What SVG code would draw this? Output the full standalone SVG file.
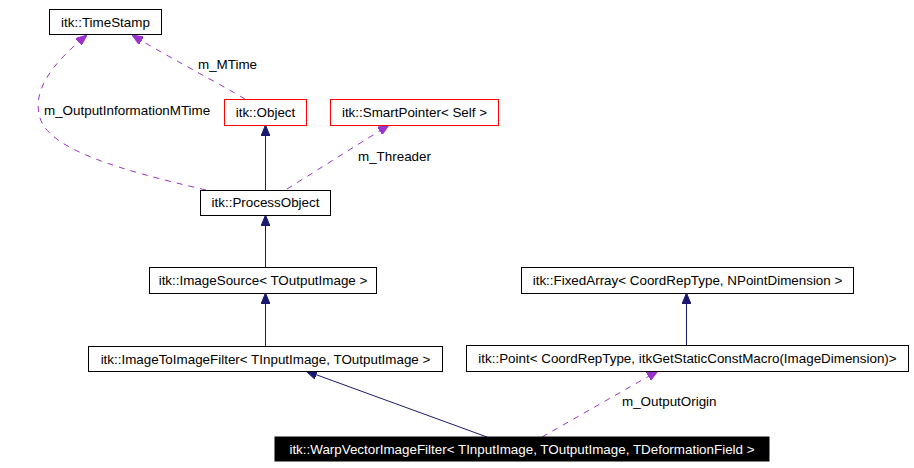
<svg xmlns="http://www.w3.org/2000/svg" width="914" height="468" viewBox="0 0 914 468">
<style>
text{font-family:"Liberation Sans",Arial,sans-serif;font-size:13.4px;fill:#000}
.n rect{fill:#fff;stroke:#000;stroke-width:1}
.n text{text-anchor:middle}
.r rect{stroke:#ff0000}
.inh{fill:none;stroke:#191970;stroke-width:1}
.use{fill:none;stroke:#9a32cd;stroke-width:1;stroke-dasharray:6,6}
</style>
<defs>
<marker id="ab" viewBox="0 0 11 9" refX="11" refY="4.5" markerWidth="11" markerHeight="9" markerUnits="userSpaceOnUse" orient="auto">
<path d="M0,0 L11,4.5 L0,9 Z" fill="#191970" stroke="#191970" stroke-width="1"/>
</marker>
<marker id="ap" viewBox="0 0 11 9" refX="11" refY="4.5" markerWidth="11" markerHeight="9" markerUnits="userSpaceOnUse" orient="auto">
<path d="M0,0 L11,4.5 L0,9 Z" fill="#9a32cd" stroke="#9a32cd" stroke-width="1"/>
</marker>
</defs>
<rect width="914" height="468" fill="#fff"/>
<g id="edges">
<path class="use" d="M245,99 C220,84 170,58 132,35" marker-end="url(#ap)"/>
<path class="use" d="M206,190 C120,170 50,150 40,118 C32,92 50,65 87,35" marker-end="url(#ap)"/>
<path class="use" d="M287,189 L389,125" marker-end="url(#ap)"/>
<path class="inh" d="M265.5,190 L265.5,125" marker-end="url(#ab)"/>
<path class="inh" d="M265.5,267 L265.5,215" marker-end="url(#ab)"/>
<path class="inh" d="M265.5,346 L265.5,293" marker-end="url(#ab)"/>
<path class="inh" d="M686.5,345 L686.5,293" marker-end="url(#ab)"/>
<path class="inh" d="M487,437 L306,371" marker-end="url(#ab)"/>
<path class="use" d="M542,437 L658,371" marker-end="url(#ap)"/>
<text x="198" y="69">m_MTime</text>
<text x="44" y="115">m_OutputInformationMTime</text>
<text x="358" y="161">m_Threader</text>
<text x="622" y="406">m_OutputOrigin</text>
</g>
<g id="TimeStamp" class="n"><rect x="49.5" y="9.5" width="112" height="25"/><text x="105.5" y="26.5">itk::TimeStamp</text></g>
<g id="Object" class="n r"><rect x="224.5" y="99.5" width="82" height="26"/><text x="265.5" y="117">itk::Object</text></g>
<g id="SmartPointer" class="n r"><rect x="330.5" y="99.5" width="168" height="26"/><text x="414.5" y="117">itk::SmartPointer&lt; Self &gt;</text></g>
<g id="ProcessObject" class="n"><rect x="200.5" y="190.5" width="130" height="25"/><text x="265.5" y="207">itk::ProcessObject</text></g>
<g id="ImageSource" class="n"><rect x="149.5" y="267.5" width="227" height="26"/><text x="263" y="285">itk::ImageSource&lt; TOutputImage &gt;</text></g>
<g id="FixedArray" class="n"><rect x="521.5" y="267.5" width="332" height="26"/><text x="687.5" y="285">itk::FixedArray&lt; CoordRepType, NPointDimension &gt;</text></g>
<g id="ImageToImageFilter" class="n"><rect x="88.5" y="346.5" width="354" height="25"/><text x="265.5" y="364">itk::ImageToImageFilter&lt; TInputImage, TOutputImage &gt;</text></g>
<g id="Point" class="n"><rect x="466.5" y="345.5" width="442" height="26"/><text x="687.5" y="363">itk::Point&lt; CoordRepType, itkGetStaticConstMacro(ImageDimension)&gt;</text></g>
<g id="WarpVectorImageFilter" class="n"><rect x="275" y="437" width="494" height="24" style="fill:#000;stroke:#000"/><text x="522" y="454" style="fill:#fff">itk::WarpVectorImageFilter&lt; TInputImage, TOutputImage, TDeformationField &gt;</text></g>
</svg>
